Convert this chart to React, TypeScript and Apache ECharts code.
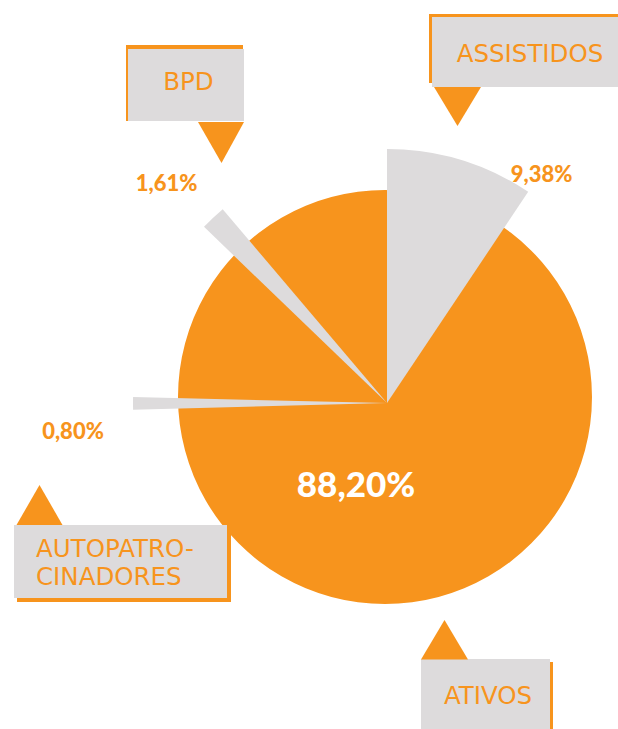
import React, { useEffect, useRef } from "react";
import * as echarts from "echarts";

const categories = ["ATIVOS", "ASSISTIDOS", "AUTOPATROCINADORES", "BPD"];
const boxLabels = ["ATIVOS", "ASSISTIDOS", "AUTOPATRO-\nCINADORES", "BPD"];
const shares = [88.2, 9.38, 0.8, 1.61];

const ORANGE = "#f7941d";
const GRAY = "#dddbdc";
const CLEAR = "rgba(0,0,0,0)";

const fmt = (v: number) => v.toFixed(2).replace(".", ",") + "%";

export default function App() {
  const ref = useRef<HTMLDivElement>(null);

  useEffect(() => {
    if (!ref.current) return;
    const chart = echarts.init(ref.current, undefined, { renderer: "svg" });
    const total = shares.reduce((a, b) => a + b, 0);

    // angular position (clockwise degrees from 12 o'clock) of each gray wedge
    const wedgeLayout: Record<number, { mode: "start" | "mid"; deg: number }> = {
      1: { mode: "start", deg: 0 },
      2: { mode: "mid", deg: 269.9 },
      3: { mode: "mid", deg: 316.8 },
    };

    const wedgeSeries = [1, 2, 3].map((i) => {
      const span = (shares[i] / total) * 360;
      const l = wedgeLayout[i];
      const startCw = l.mode === "start" ? l.deg : l.deg - span / 2;
      return {
        type: "pie",
        name: categories[i],
        center: [387, 403],
        radius: [0, 254],
        startAngle: 90 - startCw,
        clockwise: true,
        silent: true,
        label: { show: false },
        labelLine: { show: false },
        emphasis: { disabled: true },
        itemStyle: { borderWidth: 0 },
        z: 3,
        data: [
          { name: categories[i], value: shares[i], itemStyle: { color: GRAY } },
          { name: "rest", value: total - shares[i], itemStyle: { color: CLEAR } },
        ],
      };
    });

    const labelFont = "DejaVu Sans";
    const boldFont = "Lato";

    const box = (
      orange: [number, number, number, number],
      gray: [number, number, number, number],
      tri: number[][],
      text: string,
      tx: number,
      ty: number,
      align: string = "center",
      lineHeight = 28
    ) => [
      { type: "rect", shape: { x: orange[0], y: orange[1], width: orange[2], height: orange[3] }, style: { fill: ORANGE }, z: 10 },
      { type: "rect", shape: { x: gray[0], y: gray[1], width: gray[2], height: gray[3] }, style: { fill: GRAY }, z: 11 },
      { type: "polygon", shape: { points: tri }, style: { fill: ORANGE }, z: 11 },
      {
        type: "text",
        x: tx,
        y: ty,
        z: 12,
        style: {
          text,
          fill: ORANGE,
          fontFamily: labelFont,
          fontSize: 24.5,
          fontWeight: "normal",
          align,
          verticalAlign: "middle",
          lineHeight,
        },
      },
    ];

    const pct = (i: number, x: number, y: number, size: number, color: string) => ({
      type: "text",
      x,
      y,
      z: 12,
      style: {
        text: fmt(shares[i]),
        fill: color,
        fontFamily: boldFont,
        fontSize: size,
        fontWeight: 900,
        align: "center",
        verticalAlign: "middle",
      },
    });

    chart.setOption({
      animation: false,
      series: [
        {
          type: "pie",
          name: categories[0],
          center: [385, 397],
          radius: [0, 207],
          silent: true,
          label: { show: false },
          labelLine: { show: false },
          emphasis: { disabled: true },
          itemStyle: { borderWidth: 0, color: ORANGE },
          z: 2,
          data: [{ name: categories[0], value: shares[0] }],
        },
        ...wedgeSeries,
      ],
      graphic: [
        ...box([126, 45, 117, 76], [128, 49, 116, 72], [[198, 122], [244, 122], [221.5, 163]], boxLabels[3], 188.5, 81),
        ...box([429, 14, 189, 69], [432, 17, 186, 70], [[434, 87], [481, 87], [457.5, 126]], boxLabels[1], 530, 53),
        ...box([17, 528, 214, 74], [14, 525, 213, 73], [[16.5, 525], [62.5, 525], [39.5, 485]], boxLabels[2], 36, 562.5, "left", 27.5),
        ...box([424, 662, 129, 67], [421, 659, 129, 70], [[421, 659.5], [468, 659.5], [444.5, 620]], boxLabels[0], 488, 695),
        pct(1, 541.7, 173.5, 22, ORANGE),
        pct(3, 166.7, 182.5, 22, ORANGE),
        pct(2, 73, 430.5, 22, ORANGE),
        pct(0, 356, 482.5, 35, "#ffffff"),
      ],
    });

    return () => chart.dispose();
  }, []);

  return (
    <div
      ref={ref}
      style={{ position: "fixed", left: 0, top: 0, width: 618, height: 729, background: "#ffffff" }}
    />
  );
}
